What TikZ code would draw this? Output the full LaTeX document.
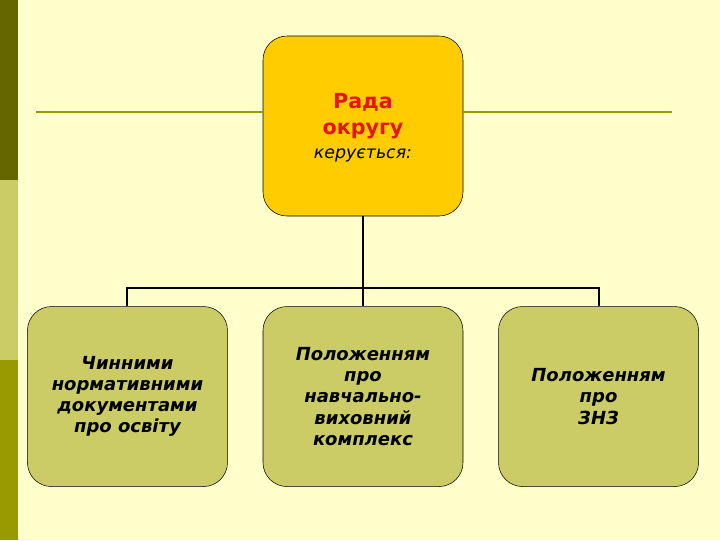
\documentclass[tikz,border=0pt]{standalone}
\usepackage{fontspec}
\setmainfont{DejaVu Sans}
\usepackage{tikz}
\usetikzlibrary{positioning}
\definecolor{paleyellow}{RGB}{255,255,204}
\definecolor{darkolive}{RGB}{102,102,0}
\definecolor{lightolive}{RGB}{204,204,102}
\definecolor{midolive}{RGB}{153,153,0}
\definecolor{gold}{RGB}{255,204,0}
\definecolor{radared}{RGB}{230,20,20}
\newcommand{\subfont}{\fontsize{13}{16}\selectfont\mdseries\itshape}

\begin{document}
\begin{tikzpicture}[
        x=0.75pt, y=-0.75pt,
        node distance=26.25pt,
        box/.style={draw, thin, rounded corners=18pt, minimum width=150pt,
                    minimum height=135pt, align=center, inner sep=2pt},
        leaf/.style={box, fill=lightolive, font=\fontsize{13.5}{15.8}\selectfont\bfseries\itshape},
        conn/.style={line width=1.5pt},
        rule/.style={line width=1.5pt, midolive}
      ]
        % slide background
        \fill[paleyellow] (0,0) rectangle (720,540);
        \fill[darkolive] (0,0) rectangle (18,180);
        \fill[lightolive] (0,180) rectangle (18,360);
        \fill[midolive] (0,360) rectangle (18,540);
        \node[box, fill=gold, font=\fontsize{15.5}{20}\selectfont\bfseries] (rada) at (363,126)
          {\\[-6pt]\textcolor{radared}{Рада}\\\textcolor{radared}{округу}\\[-2pt]{\subfont керується:}};
        \node[leaf, below=67.5pt of rada] (nvk) {Положенням\\про\\навчально-\\виховний\\комплекс};
        \node[leaf, left=of nvk] (docs) {Чинними\\нормативними\\документами\\про освіту};
        \node[leaf, right=of nvk] (znz) {Положенням\\про\\ЗНЗ};
        \coordinate (ruleL) at (36,112);
        \coordinate (ruleR) at (672,112);
        \coordinate (bus) at (363,288);
        \draw[rule] (ruleL) -- (rada.west |- ruleL);
        \draw[rule] (rada.east |- ruleR) -- (ruleR);
        \draw[conn] (rada) -- (nvk);
        \draw[conn] (docs.north) |- (bus) -| (znz.north);
      \end{tikzpicture}
\end{document}
